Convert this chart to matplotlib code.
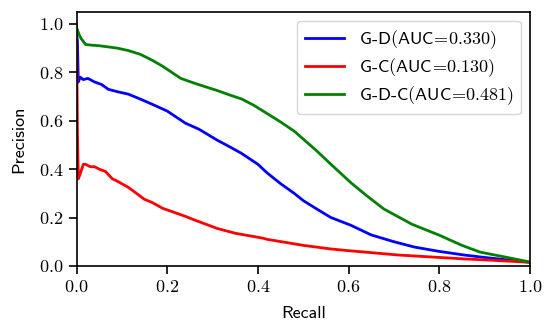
import matplotlib
matplotlib.use("Agg")
import matplotlib.pyplot as plt

plt.rcParams["font.family"] = "cmss10"
plt.rcParams["mathtext.fontset"] = "cm"
plt.rcParams["axes.formatter.use_mathtext"] = True
plt.rcParams["axes.unicode_minus"] = False
plt.rcParams["font.size"] = 13

# precision-recall curves
recall_gd = [0.0, 0.002, 0.004, 0.008, 0.015, 0.025, 0.04, 0.055, 0.07, 0.09, 0.114, 0.14, 0.167,
             0.2, 0.24, 0.27, 0.31, 0.34, 0.364, 0.4, 0.42, 0.45, 0.48, 0.5, 0.53, 0.561, 0.605,
             0.65, 0.7, 0.745, 0.8, 0.855, 0.9, 0.95, 1.0]
prec_gd = [0.96, 0.93, 0.76, 0.78, 0.77, 0.775, 0.76, 0.75, 0.73, 0.72, 0.71, 0.69, 0.668,
           0.64, 0.59, 0.565, 0.52, 0.49, 0.465, 0.42, 0.385, 0.34, 0.30, 0.27, 0.235, 0.20, 0.168,
           0.128, 0.10, 0.078, 0.06, 0.045, 0.035, 0.025, 0.015]

recall_gc = [0.0, 0.002, 0.004, 0.008, 0.015, 0.02, 0.03, 0.04, 0.05, 0.064, 0.079, 0.09, 0.114,
             0.15, 0.167, 0.19, 0.24, 0.26, 0.31, 0.35, 0.41, 0.42, 0.5, 0.561, 0.6, 0.71, 0.8,
             0.855, 0.9, 1.0]
prec_gc = [1.0, 0.55, 0.36, 0.38, 0.42, 0.42, 0.41, 0.41, 0.40, 0.39, 0.36, 0.35, 0.325,
           0.275, 0.262, 0.238, 0.205, 0.19, 0.155, 0.135, 0.115, 0.11, 0.085, 0.07, 0.063, 0.045, 0.035,
           0.029, 0.025, 0.015]

recall_gdc = [0.0, 0.003, 0.006, 0.01, 0.02, 0.035, 0.05, 0.07, 0.09, 0.114, 0.14, 0.167, 0.19,
              0.21, 0.23, 0.26, 0.31, 0.34, 0.364, 0.39, 0.42, 0.45, 0.48, 0.53, 0.561, 0.605, 0.64,
              0.678, 0.74, 0.8, 0.85, 0.89, 0.95, 1.0]
prec_gdc = [0.985, 0.97, 0.955, 0.94, 0.915, 0.912, 0.91, 0.905, 0.90, 0.89, 0.875, 0.85, 0.825,
            0.80, 0.775, 0.755, 0.725, 0.705, 0.69, 0.665, 0.63, 0.595, 0.557, 0.475, 0.42, 0.344, 0.29,
            0.235, 0.172, 0.127, 0.085, 0.057, 0.035, 0.016]

labels = [r"G-D$($AUC$\!=\!0.330)$", r"G-C$($AUC$\!=\!0.130)$", r"G-D-C$($AUC$\!=\!0.481)$"]
colors = ["blue", "red", "green"]

fig = plt.figure(figsize=(5.45, 3.2), dpi=100)
ax = fig.add_axes([0.1404, 0.169, 0.832, 0.794])

ax.plot(recall_gd, prec_gd, color=colors[0], lw=2, label=labels[0])
ax.plot(recall_gc, prec_gc, color=colors[1], lw=2, label=labels[1])
ax.plot(recall_gdc, prec_gdc, color=colors[2], lw=2, label=labels[2])

ax.set_xlim(0, 1)
ax.set_ylim(0, 1.05)
ax.set_xticks([0, 0.2, 0.4, 0.6, 0.8, 1.0])
ax.set_yticks([0, 0.2, 0.4, 0.6, 0.8, 1.0])
ax.set_xticklabels(["$0.0$", "$0.2$", "$0.4$", "$0.6$", "$0.8$", "$1.0$"])
ax.set_yticklabels(["$0.0$", "$0.2$", "$0.4$", "$0.6$", "$0.8$", "$1.0$"])
ax.tick_params(length=6, width=1.2)
for s in ax.spines.values():
    s.set_linewidth(1.2)
ax.set_xlabel("Recall", labelpad=8)
ax.set_ylabel("Precision", labelpad=9)
ax.legend(loc="upper right", labelspacing=0.3, handlelength=2.2)

fig.savefig("out.png", dpi=100)
